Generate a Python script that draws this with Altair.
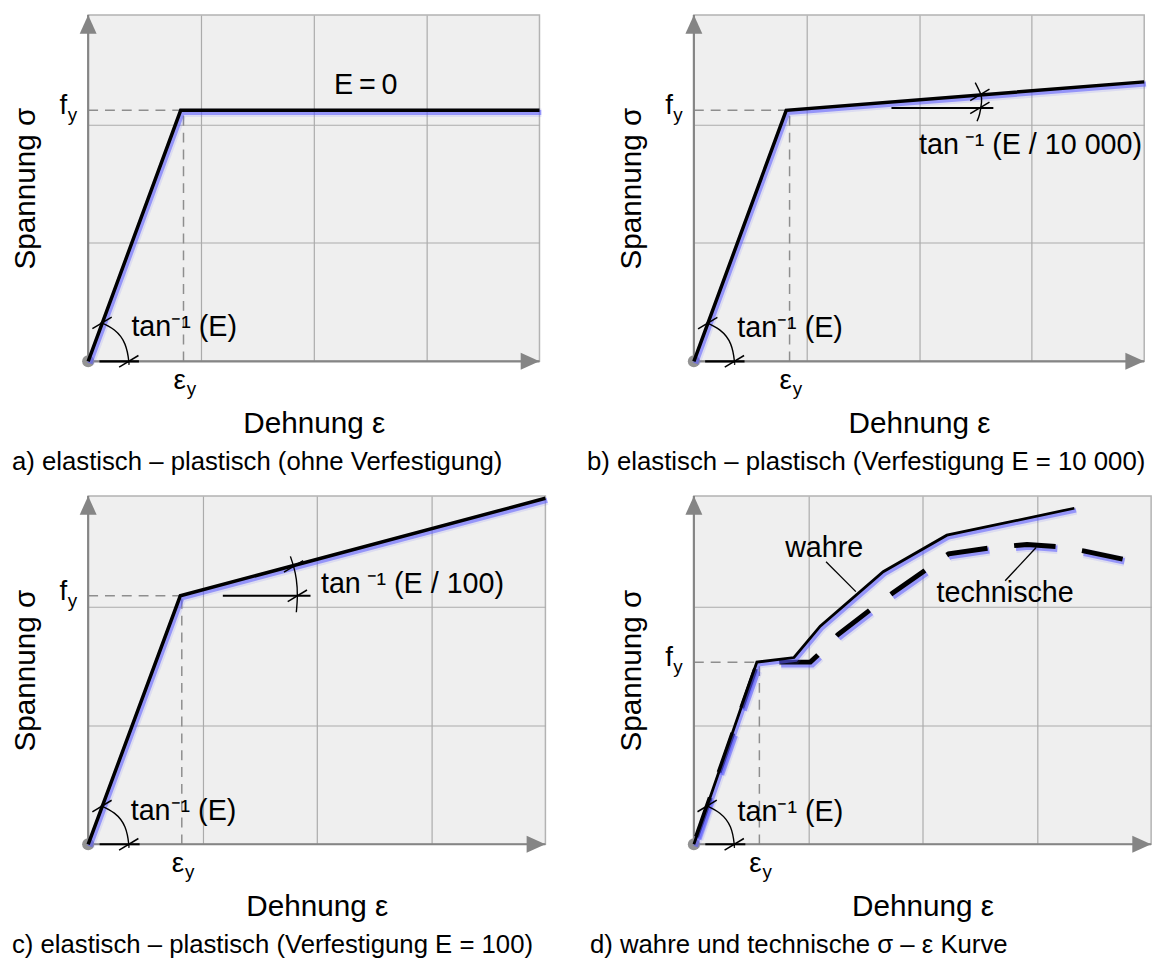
import altair as alt
import pandas as pd

FONT = "Liberation Sans"
GRID_C = "#ababab"
AXIS_C = "#858585"
GUIDE_C = "#8e8e8e"
GLOW_C = "#5b5bff"

# ---------------- values ----------------
# a) elastisch - plastisch (ohne Verfestigung)
a_strain = [0.0, 0.82, 4.0]
a_stress = [0.0, 2.12, 2.12]
a_fy, a_corner, a_eps_y = 2.12, 0.82, 0.845
a_arc_x = [0.111, 0.232, 0.326, 0.360, 0.359]
a_arc_y = [0.328, 0.264, 0.145, 0.0, -0.024]
a_tick_x = [0.123, 0.360]
a_tick_y = [0.324, 0.0]
a_tan_pos = [0.383, 0.29]
a_e0_pos = [2.46, 2.33]

# b) Verfestigung E = 10 000
b_strain = [0.0, 0.82, 4.0]
b_stress = [0.0, 2.12, 2.36]
b_fy, b_corner, b_eps_y = 2.12, 0.82, 0.85
b_arc_x = [0.112, 0.232, 0.327, 0.360, 0.360]
b_arc_y = [0.326, 0.263, 0.145, 0.0, -0.024]
b_tick_x = [0.123, 0.360]
b_tick_y = [0.322, 0.0]
b_tan_pos = [0.385, 0.28]
b_ref_x = [1.755, 2.66]
b_ref_y = [2.14, 2.14]
b_harc_x = [2.499, 2.548, 2.555, 2.538, 2.515]
b_harc_y = [2.354, 2.256, 2.187, 2.089, 2.028]
b_htick_x = [2.54, 2.54]
b_htick_y = [2.25, 2.14]
b_htan_pos = [2.0, 1.825]

# c) Verfestigung E = 100
c_strain = [0.0, 0.806, 4.0]
c_stress = [0.0, 2.092, 2.913]
c_fy, c_corner, c_eps_y = 2.092, 0.806, 0.819
c_arc_x = [0.110, 0.229, 0.322, 0.355, 0.354]
c_arc_y = [0.326, 0.262, 0.145, 0.0, -0.024]
c_tick_x = [0.121, 0.355]
c_tick_y = [0.322, 0.0]
c_tan_pos = [0.372, 0.28]
c_ref_x = [1.178, 1.945]
c_ref_y = [2.092, 2.092]
c_harc_x = [1.769, 1.797, 1.821, 1.830, 1.821]
c_harc_y = [2.424, 2.340, 2.231, 2.092, 1.953]
c_htick_x = [1.797, 1.830]
c_htick_y = [2.340, 2.092]
c_htan_pos = [2.036, 2.19]

# d) wahre und technische Kurve
d_true_strain = [0.0, 0.551, 0.876, 1.105, 1.656, 2.213, 3.328]
d_true_stress = [0.0, 1.535, 1.574, 1.838, 2.297, 2.605, 2.832]
d_eng_strain = [0.0, 0.551, 0.748, 1.019, 1.092, 1.258, 1.545, 1.736, 2.038,
                2.229, 2.596, 2.914, 3.201, 3.408, 3.790]
d_eng_stress = [0.0, 1.513, 1.535, 1.535, 1.602, 1.765, 1.978, 2.115, 2.319,
                2.448, 2.499, 2.527, 2.507, 2.473, 2.395]
d_fy, d_corner, d_eps_y = 1.535, 0.551, 0.573
d_arc_x = [0.109, 0.227, 0.320, 0.353, 0.352]
d_arc_y = [0.326, 0.262, 0.145, 0.0, -0.024]
d_tick_x = [0.116, 0.353]
d_tick_y = [0.323, 0.0]
d_tan_pos = [0.382, 0.275]
d_true_leader_x = [1.156, 1.417]
d_true_leader_y = [2.381, 2.129]
d_eng_leader_x = [2.723, 2.994]
d_eng_leader_y = [2.221, 2.501]
d_true_label_pos = [1.14, 2.50]
d_eng_label_pos = [2.723, 2.118]

captions = [
    "a) elastisch \u2013 plastisch (ohne Verfestigung)",
    "b) elastisch \u2013 plastisch (Verfestigung E = 10 000)",
    "c) elastisch \u2013 plastisch (Verfestigung E = 100)",
    "d) wahre und technische \u03c3 \u2013 \u03b5 Kurve",
]

ANN = 29


def pts(xs, ys, g="s"):
    return pd.DataFrame({"x": list(xs), "y": list(ys), "o": list(range(len(xs))), "g": g})


def panel(w, h, ymax, caption, cap_dx, curves, fy, corner, eps_y,
          arc, ticks, tan_pos, lines=(), texts=()):
    xsc = alt.Scale(domain=[0, 4], nice=False, zero=False)
    ysc = alt.Scale(domain=[0, ymax], nice=False, zero=False)
    X = alt.X("x:Q", scale=xsc, axis=alt.Axis(
        title="Dehnung \u03b5", values=[1, 2, 3], grid=True, labels=False,
        ticks=False, domain=False, titlePadding=48))
    Y = alt.Y("y:Q", scale=ysc, axis=alt.Axis(
        title="Spannung \u03c3", values=[1, 2], grid=True, labels=False,
        ticks=False, domain=False, titlePadding=48))

    def line(df, **kw):
        return alt.Chart(df).mark_line(**kw).encode(x=X, y=Y, detail="g:N", order="o:Q")

    def txt(x, y, s, size, dx=0, dy=0, align="left"):
        return alt.Chart(pd.DataFrame({"x": [x], "y": [y], "t": [s]})).mark_text(
            font=FONT, fontSize=size, dx=dx, dy=dy, align=align, baseline="middle",
            color="black").encode(x=X, y=Y, text="t:N")

    layers = []
    guides = pd.concat([pts([0, corner], [fy, fy], "h"), pts([eps_y, eps_y], [0, fy], "v")])
    layers.append(line(guides, color=GUIDE_C, strokeWidth=1.5, strokeDash=[10, 7]))
    axes = pd.concat([pts([0, 4], [0, 0], "x"), pts([0, 0], [0, ymax], "y")])
    layers.append(line(axes, color=AXIS_C, strokeWidth=2.2))
    layers.append(alt.Chart(pts([4], [0])).mark_point(
        shape="M -2 -0.9 L 0 0 L -2 0.9 Z", filled=True, color=AXIS_C, opacity=1,
        size=361).encode(x=X, y=Y))
    layers.append(alt.Chart(pts([0], [ymax])).mark_point(
        shape="M -0.9 2 L 0 0 L 0.9 2 Z", filled=True, color=AXIS_C, opacity=1,
        size=361).encode(x=X, y=Y))
    layers.append(alt.Chart(pts([0], [0])).mark_circle(
        color="#939393", size=150, opacity=1).encode(x=X, y=Y))
    for cx, cy, width, dash in curves:
        extra = {"strokeDash": dash[0], "strokeDashOffset": dash[1]} if dash else {}
        layers.append(line(pts(cx, cy), color=GLOW_C, strokeWidth=width + 5, opacity=0.13,
                           xOffset=2, yOffset=2.5, **extra))
        layers.append(line(pts(cx, cy), color=GLOW_C, strokeWidth=width + 1.5, opacity=0.55,
                           xOffset=1.8, yOffset=2.2, **extra))
        layers.append(line(pts(cx, cy), color="black", strokeWidth=width, **extra))
    # angle annotation at origin
    layers.append(line(pts([0.1, 0.45], [0, 0]), color="black", strokeWidth=2.2))
    layers.append(line(pts(arc[0], arc[1]), color="black", strokeWidth=1.4, interpolate="natural"))
    all_ticks = [ticks]
    for ln in lines:
        kind = ln[0]
        if kind == "arc":
            layers.append(line(pts(ln[1], ln[2]), color="black", strokeWidth=1.4, interpolate="natural"))
        elif kind == "ticks":
            all_ticks.append((ln[1], ln[2]))
        else:
            layers.append(line(pts(ln[1], ln[2]), color="black", strokeWidth=ln[3]))
    for tx, ty in all_ticks:
        layers.append(alt.Chart(pts(tx, ty)).mark_point(
            shape="M -1 0.6 L 1 -0.6", filled=False, color="black", strokeWidth=1.5,
            opacity=1, size=380).encode(x=X, y=Y))
    # labels
    layers.append(txt(0, fy, "f", 28, dx=-25, dy=-4, align="center"))
    layers.append(txt(0, fy, "y", 19, dx=-16, dy=5, align="center"))
    layers.append(txt(eps_y, 0, "\u03b5", 28, dx=-4, dy=20, align="center"))
    layers.append(txt(eps_y, 0, "y", 19, dx=8, dy=28, align="center"))
    layers.append(txt(tan_pos[0], tan_pos[1], "tan\u207b\u00b9 (E)", ANN))
    for t in texts:
        layers.append(txt(*t))

    return alt.layer(*layers).properties(
        width=w, height=h,
        title=alt.TitleParams(caption, orient="bottom", anchor="start", frame="group",
                              dx=cap_dx, offset=11, fontSize=26, font=FONT,
                              fontWeight="normal", color="black"))


pa = panel(456, 350, 2.926, captions[0], -77,
           [(a_strain, a_stress, 3.5, None)], a_fy, a_corner, a_eps_y,
           (a_arc_x, a_arc_y), (a_tick_x, a_tick_y), a_tan_pos,
           texts=[(a_e0_pos[0], a_e0_pos[1], "E\u2009=\u20090", ANN, 0, 0, "center")])

pb = panel(455, 350, 2.926, captions[1], -108,
           [(b_strain, b_stress, 3.5, None)], b_fy, b_corner, b_eps_y,
           (b_arc_x, b_arc_y), (b_tick_x, b_tick_y), b_tan_pos,
           lines=[("seg", b_ref_x, b_ref_y, 2.0), ("arc", b_harc_x, b_harc_y),
                  ("ticks", b_htick_x, b_htick_y)],
           texts=[(b_htan_pos[0], b_htan_pos[1], "tan\u2009\u207b\u00b9 (E / 10 000)", ANN)])

pc = panel(462, 352, 2.933, captions[2], -77,
           [(c_strain, c_stress, 3.5, None)], c_fy, c_corner, c_eps_y,
           (c_arc_x, c_arc_y), (c_tick_x, c_tick_y), c_tan_pos,
           lines=[("seg", c_ref_x, c_ref_y, 2.0), ("arc", c_harc_x, c_harc_y),
                  ("ticks", c_htick_x, c_htick_y)],
           texts=[(c_htan_pos[0], c_htan_pos[1], "tan\u2009\u207b\u00b9 (E / 100)", ANN)])

pd_ = panel(462, 352, 2.936, captions[3], -105,
            [(d_eng_strain, d_eng_stress, 5.0, ([42, 27], 61)),
             (d_true_strain, d_true_stress, 2.8, None)],
            d_fy, d_corner, d_eps_y,
            (d_arc_x, d_arc_y), (d_tick_x, d_tick_y), d_tan_pos,
            lines=[("seg", d_true_leader_x, d_true_leader_y, 1.3),
                   ("seg", d_eng_leader_x, d_eng_leader_y, 1.3)],
            texts=[(d_true_label_pos[0], d_true_label_pos[1], "wahre", ANN, 0, 0, "center"),
                   (d_eng_label_pos[0], d_eng_label_pos[1], "technische", ANN, 0, 0, "center")])

chart = alt.concat(pa, pb, pc, pd_, columns=2, bounds="flush",
                   spacing={"row": 136, "column": 150}).properties(
    padding={"left": 2, "top": -4, "right": 0, "bottom": 0},
    background="white",
).configure_view(
    fill="#efefef", stroke="#b3b3b3", strokeWidth=1.5
).configure_axis(
    gridColor=GRID_C, gridWidth=1.2, titleFont=FONT, titleFontSize=30,
    titleFontWeight="normal", titleColor="black"
)

chart.save("out.html", embed_options={"renderer": "svg", "actions": False})
